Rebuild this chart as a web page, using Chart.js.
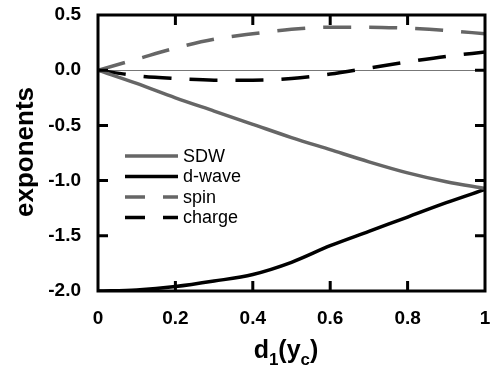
<!DOCTYPE html>
<html>
<head>
<meta charset="utf-8">
<script src="https://cdn.jsdelivr.net/npm/chart.js@4.4.0/dist/chart.umd.min.js"></script>
<style>
  html, body { margin: 0; padding: 0; background: #fff; overflow: hidden; }
  canvas { display: block; }
</style>
</head>
<body>
<canvas id="myChart" width="493" height="375"></canvas>
<script>
// values
const xs = [0, 0.1, 0.2, 0.3, 0.4, 0.5, 0.6, 0.7, 0.8, 0.9, 1.0];
const sdw = [0, -0.12, -0.25, -0.37, -0.49, -0.61, -0.72, -0.83, -0.93, -1.01, -1.07];
const dwave = [-2.0, -1.99, -1.96, -1.91, -1.85, -1.74, -1.59, -1.46, -1.33, -1.2, -1.08];
const spin = [0, 0.1, 0.2, 0.28, 0.33, 0.37, 0.39, 0.39, 0.38, 0.36, 0.33];
const charge = [0, -0.05, -0.075, -0.09, -0.09, -0.075, -0.035, 0.02, 0.075, 0.125, 0.165];
const seriesNames = ["SDW", "d-wave", "spin", "charge"];
const yTicks = [0.5, 0.0, -0.5, -1.0, -1.5, -2.0];
const xTicks = [0, 0.2, 0.4, 0.6, 0.8, 1];

const GRAY = "#666666";
const FRAME = "#000000";
const FONT = "'Liberation Sans', Arial, Helvetica, sans-serif";

let toPoints = (ys) => xs.map((x, i) => ({ x: x, y: ys[i] }));

let mkSet = (label, ys, color, dashed) => ({
    label: label,
    data: toPoints(ys),
    borderColor: color,
    backgroundColor: color,
    borderWidth: 3.5,
    borderDash: dashed ? [28, 18] : [],
    pointRadius: 0,
    cubicInterpolationMode: "monotone",
    fill: false,
});

// box round the plot, inward ticks on all four sides, legend and axis titles
const decor = {
    id: "decor",
    afterDraw(chart) {
        const c = chart.ctx;
        const a = chart.chartArea;
        const sx = chart.scales.x;
        const sy = chart.scales.y;
        c.save();
        c.setLineDash([]);
        c.strokeStyle = FRAME;
        c.lineWidth = 3;
        c.strokeRect(a.left, a.top, a.right - a.left, a.bottom - a.top);
        c.beginPath();
        xTicks.slice(1, -1).forEach((v) => {
            const px = sx.getPixelForValue(v);
            c.moveTo(px, a.bottom);
            c.lineTo(px, a.bottom - 10);
            c.moveTo(px, a.top);
            c.lineTo(px, a.top + 10);
        });
        yTicks.slice(1, -1).forEach((v) => {
            const py = sy.getPixelForValue(v);
            c.moveTo(a.left, py);
            c.lineTo(a.left + 10, py);
            c.moveTo(a.right, py);
            c.lineTo(a.right - 10, py);
        });
        c.stroke();

        // legend
        const lx = a.left + 27;
        let ly = a.top + 141;
        chart.data.datasets.forEach((ds) => {
            c.strokeStyle = ds.borderColor;
            c.lineWidth = 3.5;
            c.setLineDash(ds.borderDash.length ? [20, 18] : []);
            c.beginPath();
            c.moveTo(lx, ly);
            c.lineTo(lx + 53, ly);
            c.stroke();
            c.setLineDash([]);
            c.fillStyle = "#000";
            c.font = "18px " + FONT;
            c.textAlign = "left";
            c.textBaseline = "middle";
            c.fillText(ds.label, lx + 58, ly + 1);
            ly += 20.5;
        });

        // y title
        c.fillStyle = "#000";
        c.save();
        c.translate(26, 152);
        c.rotate(-Math.PI / 2);
        c.font = "bold 26px " + FONT;
        c.textAlign = "center";
        c.textBaseline = "middle";
        c.fillText("exponents", 0, 0);
        c.restore();

        // x title d1(yc)
        const parts = [
            ["d", 25, 0], ["1", 17, 7], ["(y", 25, 0], ["c", 17, 7], [")", 25, 0],
        ];
        c.textAlign = "left";
        c.textBaseline = "alphabetic";
        let w = 0;
        parts.forEach((p) => { c.font = "bold " + p[1] + "px " + FONT; w += c.measureText(p[0]).width; });
        let tx = 286 - w / 2;
        parts.forEach((p) => {
            c.font = "bold " + p[1] + "px " + FONT;
            c.fillText(p[0], tx, 358 + p[2]);
            tx += c.measureText(p[0]).width;
        });
        c.restore();
    },
};

let drawChart = () => {
    var ctx = document.getElementById("myChart").getContext("2d");
    return new Chart(ctx, {
        type: "line",
        data: {
            datasets: [
                mkSet(seriesNames[0], sdw, GRAY, false),
                mkSet(seriesNames[1], dwave, "#000000", false),
                mkSet(seriesNames[2], spin, GRAY, true),
                mkSet(seriesNames[3], charge, "#000000", true),
            ],
        },
        options: {
            responsive: false,
            animation: false,
            layout: { padding: { top: 15, right: 8, left: 0, bottom: 0 } },
            plugins: { legend: { display: false }, tooltip: { enabled: false } },
            scales: {
                x: {
                    type: "linear",
                    min: 0,
                    max: 1,
                    afterFit: (s) => {
                        s.height = 84;
                        s.paddingLeft = 0;
                        s.paddingRight = 0;
                    },
                    afterBuildTicks: (s) => { s.ticks = xTicks.map((v) => ({ value: v })); },
                    border: { display: false },
                    grid: { display: false, drawTicks: false },
                    ticks: {
                        padding: 16,
                        maxRotation: 0,
                        autoSkip: false,
                        color: "#000",
                        font: { family: FONT, size: 19, weight: "bold" },
                        callback: (v) => String(v),
                    },
                },
                y: {
                    type: "linear",
                    min: -2.0,
                    max: 0.5,
                    afterFit: (s) => {
                        s.width = 98;
                        s.paddingTop = 0;
                        s.paddingBottom = 0;
                    },
                    afterBuildTicks: (s) => { s.ticks = yTicks.map((v) => ({ value: v })); },
                    border: { display: false },
                    grid: {
                        drawTicks: false,
                        lineWidth: 1,
                        color: (c) => (c.tick && c.tick.value === 0 ? "#777777" : "rgba(0,0,0,0)"),
                    },
                    ticks: {
                        padding: 17,
                        autoSkip: false,
                        color: "#000",
                        font: { family: FONT, size: 19, weight: "bold" },
                        callback: (v) => v.toFixed(1),
                    },
                },
            },
        },
        plugins: [decor],
    });
};
drawChart();
</script>
</body>
</html>
